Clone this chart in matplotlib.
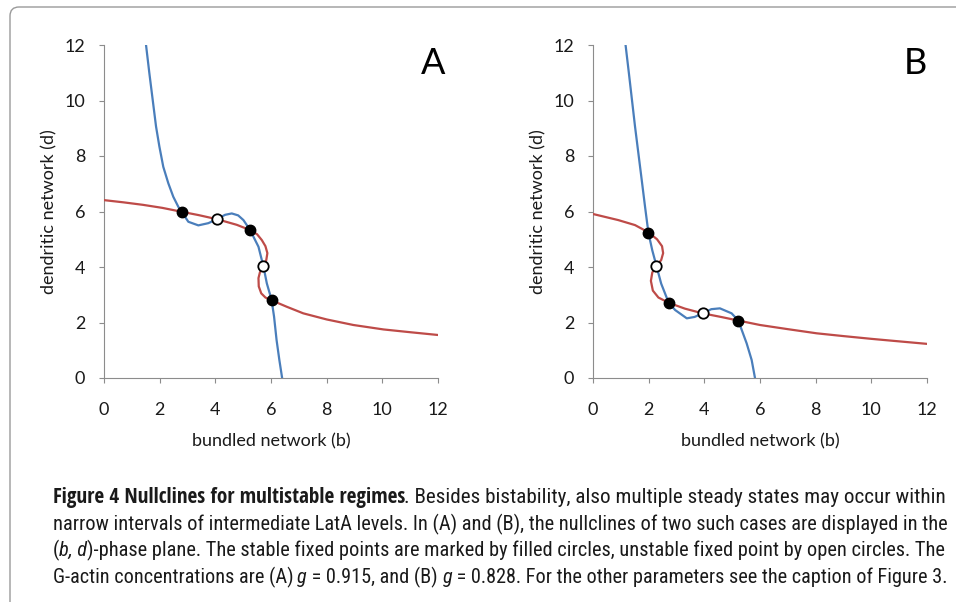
import numpy as np
import matplotlib
matplotlib.use('Agg')
import matplotlib.pyplot as plt
from matplotlib import font_manager
from matplotlib.font_manager import FontProperties
from matplotlib.patches import FancyBboxPatch
from matplotlib.transforms import IdentityTransform

# nullcline points (b, d)
A_blue_b = [1.51, 1.63, 1.75, 1.87, 1.99, 2.13, 2.31, 2.49, 2.67, 2.79, 3.03, 3.39, 3.75,
            4.07, 4.35, 4.59, 4.82, 5.01, 5.25, 5.55, 5.73, 5.85, 6.02, 6.11, 6.20, 6.30, 6.40]
A_blue_d = [12.0, 10.98, 10.02, 9.06, 8.34, 7.61, 7.02, 6.53, 6.17, 5.99, 5.63, 5.50, 5.58,
            5.73, 5.88, 5.93, 5.86, 5.69, 5.33, 4.73, 4.01, 3.41, 2.82, 2.21, 1.37, 0.65, 0.0]
A_red_b = [0.0, 0.7, 1.4, 2.1, 2.79, 3.4, 4.07, 4.77, 5.25, 5.5, 5.67, 5.8, 5.87, 5.83, 5.73,
           5.6, 5.55, 5.56, 5.65, 5.8, 6.02, 6.56, 7.16, 8.0, 8.96, 10.04, 11.0, 12.0]
A_red_d = [6.41, 6.33, 6.24, 6.13, 5.99, 5.87, 5.72, 5.52, 5.33, 5.18, 4.97, 4.75, 4.5, 4.25,
           4.01, 3.8, 3.6, 3.3, 3.05, 2.9, 2.8, 2.57, 2.33, 2.11, 1.91, 1.75, 1.65, 1.55]
A_stable_b = [2.79, 5.25, 6.02]
A_stable_d = [6.0, 5.33, 2.8]
A_unstable_b = [4.07, 5.73]
A_unstable_d = [5.72, 4.02]

B_blue_b = [1.17, 1.29, 1.40, 1.51, 1.63, 1.75, 1.87, 1.99, 2.13, 2.28, 2.45, 2.72, 2.95,
            3.37, 3.65, 3.94, 4.25, 4.56, 4.98, 5.22, 5.52, 5.70, 5.82]
B_blue_d = [12.0, 10.98, 10.02, 9.06, 8.10, 7.14, 6.17, 5.24, 4.6, 4.04, 3.4, 2.71, 2.45,
            2.15, 2.2, 2.33, 2.48, 2.51, 2.33, 2.07, 1.25, 0.65, 0.0]
B_red_b = [0.0, 0.91, 1.51, 1.99, 2.3, 2.48, 2.52, 2.45, 2.28, 2.13, 2.08, 2.15, 2.35, 2.72,
           3.3, 3.94, 4.6, 5.22, 6.0, 7.0, 8.04, 9.0, 10.01, 11.0, 12.0]
B_red_d = [5.91, 5.69, 5.51, 5.25, 5.0, 4.75, 4.5, 4.25, 4.04, 3.8, 3.5, 3.15, 2.9, 2.71,
           2.5, 2.33, 2.2, 2.07, 1.91, 1.76, 1.61, 1.51, 1.41, 1.32, 1.23]
B_stable_b = [1.99, 2.72, 5.22]
B_stable_d = [5.24, 2.71, 2.07]
B_unstable_b = [2.28, 3.94]
B_unstable_d = [4.04, 2.33]

ticks = [0, 2, 4, 6, 8, 10, 12]

plt.rcParams['font.family'] = ['Lato', 'DejaVu Sans']

blue = '#4a7ebb'
red = '#be4b48'
gray = '#8c8c8c'


# a narrow font for the caption, if there is one
def is_narrow(f):
    return (f.stretch in ('condensed', 'semi-condensed') or 'Narrow' in f.name
            or 'Condensed' in f.name)


def wt(f):
    w = f.weight
    if isinstance(w, str):
        w = 700 if 'bold' in w else 400
    return w


def cap_font(weight, style):
    for fam in ['Liberation Sans Narrow', 'Noto Sans', 'Open Sans', 'Roboto', 'DejaVu Sans']:
        for f in font_manager.fontManager.ttflist:
            if not is_narrow(f) or not f.name.startswith(fam):
                continue
            if f.stretch not in ('condensed', 'semi-condensed', 'normal'):
                continue
            if (wt(f) >= 600) == (weight == 'bold') and (f.style != 'normal') == (style == 'italic'):
                if weight == 'normal' and wt(f) != 400:
                    continue
                return FontProperties(fname=f.fname)
    return FontProperties(family='Liberation Sans', weight=weight, style=style)


props = {'n': cap_font('normal', 'normal'), 'b': cap_font('bold', 'normal'),
         'i': cap_font('normal', 'italic')}

fig = plt.figure(figsize=(9.56, 6.02), dpi=100)


def panel(rect, bb, bd, rb, rd, sb, sd, ub, ud, letter, lx):
    ax = fig.add_axes(rect)
    ax.plot(bb, bd, color=blue, lw=1.6, zorder=2)
    ax.plot(rb, rd, color=red, lw=1.6, zorder=3)
    ax.plot(sb, sd, 'o', color='black', ms=7.5, zorder=5)
    ax.plot(ub, ud, 'o', mfc='white', mec='black', mew=1.3, ms=7.5, zorder=5)
    ax.set_xlim(0, 12)
    ax.set_ylim(0, 12)
    ax.set_xticks(ticks)
    ax.set_yticks(ticks)
    for s in ['top', 'right']:
        ax.spines[s].set_visible(False)
    for s in ['left', 'bottom']:
        ax.spines[s].set_color(gray)
        ax.spines[s].set_linewidth(0.8)
    ax.tick_params(direction='out', length=3.6, width=0.8, color=gray,
                   labelsize=13, labelcolor='#1a1a1a')
    ax.tick_params(axis='x', pad=14)
    ax.tick_params(axis='y', pad=10)
    ax.set_xlabel('bundled network (b)', fontsize=13, color='#1a1a1a')
    ax.set_ylabel('dendritic network (d)', fontsize=13, color='#1a1a1a')
    ax.xaxis.set_label_coords(0.5, -0.165)
    ax.yaxis.set_label_coords(-0.14, 0.5)
    ax.text(lx, 0.945, letter, transform=ax.transAxes, fontsize=26,
            ha='center', va='center')
    return ax


panel([104/956, 224/602, 334/956, 333/602], A_blue_b, A_blue_d, A_red_b, A_red_d,
      A_stable_b, A_stable_d, A_unstable_b, A_unstable_d, 'A', 0.985)
panel([593/956, 224/602, 334/956, 333/602], B_blue_b, B_blue_d, B_red_b, B_red_d,
      B_stable_b, B_stable_d, B_unstable_b, B_unstable_d, 'B', 0.9656)

# frame round the figure
frame = FancyBboxPatch((10, -20), 975, 615, boxstyle='round,pad=0,rounding_size=9',
                       transform=IdentityTransform(), fill=False, ec='#9a9a9a', lw=1.0)
fig.patches.append(frame)

caption = [
    [('Figure 4 Nullclines for multistable regimes', 'b'),
     ('. Besides bistability, also multiple steady states may occur within', 'n')],
    [('narrow intervals of intermediate LatA levels. In (A) and (B), the nullclines of two '
      'such cases are displayed in the', 'n')],
    [('(', 'n'), ('b, d', 'i'),
     (')-phase plane. The stable fixed points are marked by filled circles, '
      'unstable fixed point by open circles. The', 'n')],
    [('G-actin concentrations are (A) ', 'n'), ('g', 'i'), (' = 0.915, and (B) ', 'n'),
     ('g', 'i'), (' = 0.828. For the other parameters see the caption of Figure 3.', 'n')],
]
baselines = [503, 530, 556, 583]
widths = [890, 890, 890, 894]

renderer = fig.canvas.get_renderer()


def text_w(s, p):
    pp = p.copy()
    pp.set_size(12)
    w1 = renderer.get_text_width_height_descent(s + '|', pp, ismath=False)[0]
    w2 = renderer.get_text_width_height_descent('|', pp, ismath=False)[0]
    return w1 - w2


for pieces, yb, w in zip(caption, baselines, widths):
    offs = []
    x = 0
    for s, k in pieces:
        offs.append(x)
        x += text_w(s, props[k])
    k_fac = w / x
    for (s, k), o in zip(pieces, offs):
        pp = props[k].copy()
        pp.set_size(12 * k_fac)
        fig.text((53 + o * k_fac) / 956, 1 - yb / 602, s, fontproperties=pp,
                 color='#1a1a1a', va='baseline', ha='left')

plt.savefig('out.png', dpi=100)
